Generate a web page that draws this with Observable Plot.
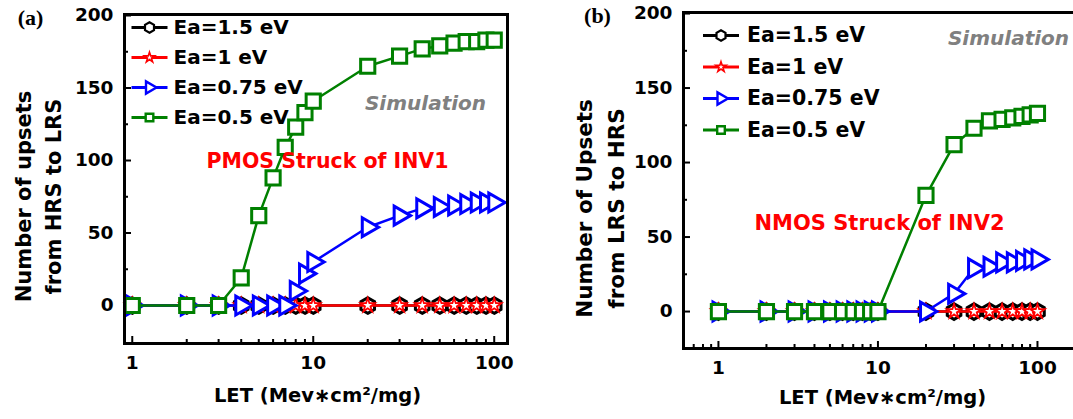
<!DOCTYPE html>
<html><head><meta charset="utf-8">
<script src="https://cdn.jsdelivr.net/npm/d3@7"></script>
<script src="https://cdn.jsdelivr.net/npm/@observablehq/plot@0.6"></script>
<style>
html,body{margin:0;padding:0;background:#fff;overflow:hidden;}
#wrap{position:relative;width:1073px;height:419px;overflow:hidden;background:#fff;}
#pa,#pb{position:absolute;top:0;height:419px;}
#pa{left:0;width:540px;} #pb{left:540px;width:560px;}
#wrap svg{max-width:none !important;}
</style></head><body><div id="wrap"><div id="pa"></div><div id="pb"></div></div>
<script>
// ---------- data ----------
const letValues = [1,2,3,4,5,6,7,8,9,10,20,30,40,50,60,70,80,90,100];
const seriesNames = ["Ea=1.5 eV","Ea=1 eV","Ea=0.75 eV","Ea=0.5 eV"];
const seriesColors = ["#000000","#ff0000","#0000ff","#008000"];
const seriesSymbols = ["hexagon","star","triangle","square"];

// panel (a): PMOS struck of INV1, upsets HRS -> LRS
const a_ea150 = [0,0,0,0,0,0,0,0,0,0,0,0,0,0,0,0,0,0,0];
const a_ea100 = [0,0,0,0,0,0,0,0,0,0,0,0,0,0,0,0,0,0,0];
const a_ea075 = [0,0,0,0,0,0,0,10,22,30,54,62,67,68,69,70,71,71,71];
const a_ea050 = [0,0,0,19,62,88,109,123,133,141,165,172,177,179,181,182,182,183,183];

// panel (b): NMOS struck of INV2, upsets LRS -> HRS
const b_ea150 = [0,0,0,0,0,0,0,0,0,0,0,0,0,0,0,0,0,0,0];
const b_ea100 = [0,0,0,0,0,0,0,0,0,0,0,0,0,0,0,0,0,0,0];
const b_ea075 = [0,0,0,0,0,0,0,0,0,0,0,12,29,30,33,33,34,35,35];
const b_ea050 = [0,0,0,0,0,0,0,0,0,0,78,112,123,128,129,130,131,132,133];

// ticks
const xMajorTicks = [1,10,100];
const xMinorTicksA = [2,3,4,5,6,7,8,9,20,30,40,50,60,70,80,90];
const xMinorTicksB = [0.7,0.8,0.9,2,3,4,5,6,7,8,9,20,30,40,50,60,70,80,90];
const yMajorTicks = [0,50,100,150,200];
const yMinorTicks = [25,75,125,175];

// ---------- drawing ----------
const lineSymbol = {draw(ctx){ ctx.moveTo(-18,0); ctx.lineTo(18,0); }};
const markerR = [6.8, 4.5, 7, 8];
const markerSW = [3, 1.8, 3, 3];
const legendR = [4.5, 3.2, 4.5, 4.3];
const legendSW = [2.2, 1.6, 2.4, 2.4];
const rot = s => s === "triangle" ? 90 : 0;

function makePanel(o) {
  const W = o.width - o.ml - o.mr, H = o.height - o.mt - o.mb;
  const marks = [];
  marks.push(Plot.tickY(yMajorTicks, {y: d => d, insetRight: W - 7, stroke: "black", strokeWidth: 2}));
  marks.push(Plot.tickY(yMinorTicks, {y: d => d, insetRight: W - 4, stroke: "black", strokeWidth: 2}));
  marks.push(Plot.tickX(xMajorTicks, {x: d => d, insetTop: H - 7, stroke: "black", strokeWidth: 2}));
  marks.push(Plot.tickX(o.xMinor, {x: d => d, insetTop: H - 4, stroke: "black", strokeWidth: 2}));
  marks.push(Plot.axisX(xMajorTicks, {tickSize: 0, tickPadding: 12, tickFormat: d => String(d), label: null, fontSize: 18.5}));
  marks.push(Plot.axisY(yMajorTicks, {tickSize: 0, tickPadding: 11, label: null, fontSize: 18.5}));
  o.series.forEach((vals, k) => {
    const rows = letValues.map((x, i) => ({x, y: vals[i]}));
    marks.push(Plot.line(rows, {x: "x", y: "y", stroke: seriesColors[k], strokeWidth: 2.5}));
    marks.push(Plot.dot(rows, {x: "x", y: "y", symbol: seriesSymbols[k], r: markerR[k],
      stroke: seriesColors[k], fill: "white", strokeWidth: markerSW[k], rotate: rot(seriesSymbols[k])}));
  });
  // legend
  seriesNames.forEach((name, k) => {
    const dy = o.leg.dy0 + k * o.leg.step;
    marks.push(Plot.dot([name], {frameAnchor: "top-left", dx: o.leg.mx, dy, symbol: lineSymbol, r: 1,
      stroke: seriesColors[k], strokeWidth: 3}));
    marks.push(Plot.dot([name], {frameAnchor: "top-left", dx: o.leg.mx, dy, symbol: seriesSymbols[k], r: legendR[k],
      stroke: seriesColors[k], fill: "white", strokeWidth: legendSW[k], rotate: rot(seriesSymbols[k])}));
    marks.push(Plot.text([name], {text: d => d, frameAnchor: "top-left", dx: o.leg.tx, dy,
      textAnchor: "start", lineAnchor: "middle", fontSize: o.leg.fs, fill: "black"}));
  });
  const mid = {textAnchor: "middle", lineAnchor: "middle"};
  // annotations
  marks.push(Plot.text(["Simulation"], {...mid, text: d => d, frameAnchor: "top-left", dx: o.sim[0], dy: o.sim[1],
    fill: "#808080", fontStyle: "italic", fontSize: 20}));
  marks.push(Plot.text([o.note], {...mid, text: d => d, frameAnchor: "top-left", dx: o.noteXY[0], dy: o.noteXY[1],
    fill: "#ff0000", fontSize: o.noteXY[2]}));
  // axis titles
  marks.push(Plot.text([o.yTitle], {...mid, text: d => d, frameAnchor: "left", dx: o.yT[0], dy: o.yT[1],
    rotate: -90, fontSize: o.yT[3], lineHeight: o.yT[2], fill: "black"}));
  marks.push(Plot.text(["LET (Mev\u2217cm\u00B2/mg)"], {...mid, text: d => d, frameAnchor: "bottom", dx: o.xT[0], dy: o.xT[1],
    fontSize: 19.5, fill: "black"}));
  marks.push(Plot.text([o.tag], {...mid, text: d => d, frameAnchor: "top-left", dx: o.tagXY[0], dy: o.tagXY[1],
    fontFamily: "Liberation Serif", fontSize: 22, fill: "black"}));
  marks.push(Plot.frame({stroke: "black", strokeWidth: 3}));

  return Plot.plot({
    width: o.width, height: o.height,
    marginLeft: o.ml, marginRight: o.mr, marginTop: o.mt, marginBottom: o.mb,
    x: {type: "log", domain: o.xDomain},
    y: {domain: o.yDomain},
    style: {fontFamily: "DejaVu Sans", fontWeight: "bold", fontSize: "18px", color: "black", background: "white", overflow: "visible", maxWidth: "none"},
    marks
  });
}

const svgA = makePanel({
  width: 540, height: 419, ml: 124, mr: 33, mt: 14, mb: 76,
  xDomain: [0.906, 118.4], yDomain: [-26.2, 200.7], xMinor: xMinorTicksA,
  series: [a_ea150, a_ea100, a_ea075, a_ea050],
  leg: {dy0: 13, step: 30, mx: 25, tx: 49, fs: 20},
  sim: [301, 89], note: "PMOS Struck of INV1", noteXY: [203, 147, 20.5],
  yTitle: "Number of upsets\nfrom HRS to LRS", yT: [-88, 17.5, 1.45, 21],
  xT: [1.5, 52], tag: "(a)", tagXY: [-94, 3]
});
const svgB = makePanel({
  width: 560, height: 419, ml: 143, mr: 10, mt: 12, mb: 71,
  xDomain: [0.604, 215], yDomain: [-24.8, 200.7], xMinor: xMinorTicksB,
  series: [b_ea150, b_ea100, b_ea075, b_ea050],
  leg: {dy0: 23, step: 31.5, mx: 37.5, tx: 63.5, fs: 20.5},
  sim: [325, 26], note: "NMOS Struck of INV2", noteXY: [196, 211, 21],
  yTitle: "Number of Upsets\nfrom LRS to HRS", yT: [-86, 28, 1.5, 21.5],
  xT: [-4.5, 49], tag: "(b)", tagXY: [-86, 3]
});
document.getElementById("pa").appendChild(svgA);
document.getElementById("pb").appendChild(svgB);
</script></body></html>
